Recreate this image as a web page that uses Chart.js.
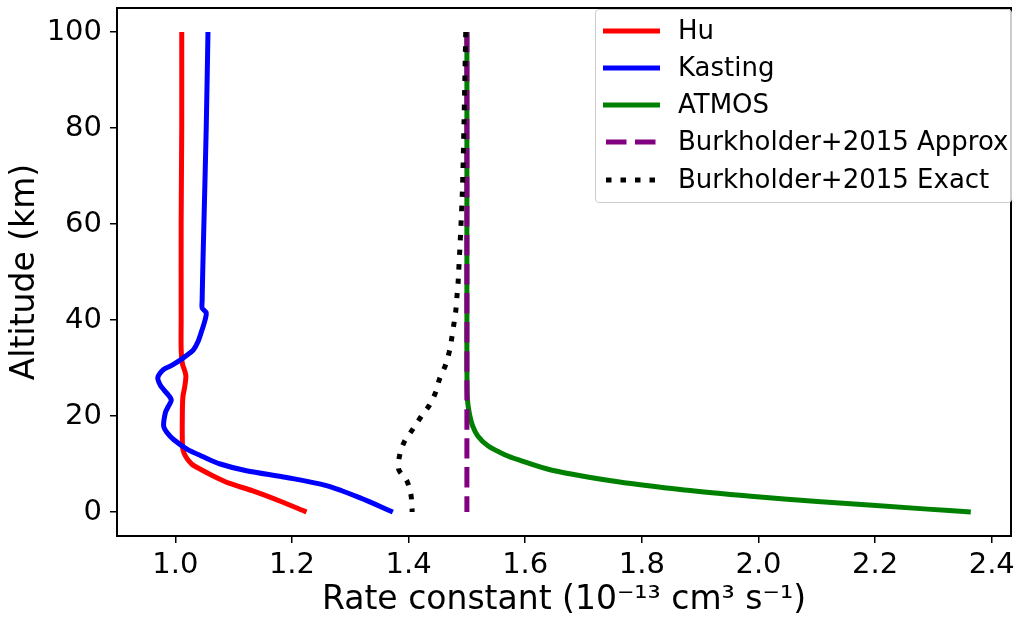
<!DOCTYPE html>
<html>
<head>
<meta charset="utf-8">
<script src="https://cdn.jsdelivr.net/npm/chart.js@4"></script>
<style>
  body { margin: 0; background: #fff; }
  #wrap { position: relative; width: 1017px; height: 620px; }
  #legend {
    position: absolute; left: 595px; top: 9px; width: 415px; height: 192px;
    background: rgba(255,255,255,0.8); border: 1px solid #ccc; border-radius: 4px;
    font-family: "DejaVu Sans", sans-serif; font-size: 26px; color: #000;
  }
  .row { position: absolute; left: 0; height: 30px; }
  .row svg { position: absolute; left: 7px; top: 10px; }
  .row span { position: absolute; left: 82px; top: -1px; white-space: nowrap; line-height: 30px; }
</style>
</head>
<body>
<div id="wrap">
  <canvas id="chart"></canvas>
  <div id="legend"></div>
</div>
<script>
// altitude (km) and rate constant (1e-13 cm^3 s^-1)
const huAlt  = [100, 80, 60, 40, 34, 31, 28.5, 26, 24, 20, 15, 13, 11.5, 10, 8.9, 7.5, 6, 4.4, 2.3, 0];
const huRate = [1.011, 1.011, 1.010, 1.010, 1.010, 1.012, 1.018, 1.016, 1.013, 1.012, 1.012, 1.013, 1.018, 1.028, 1.043, 1.065, 1.092, 1.133, 1.179, 1.225];

const kastingAlt  = [100, 80, 60, 50, 44, 42.5, 41.5, 40, 38, 35.5, 33.8, 32.5, 31.7, 30.5, 29.7, 28, 26.5, 25.5, 23.4, 22, 20.7, 17.9, 16.5, 15.1, 13.1, 11.5, 10, 8.6, 7.2, 5.5, 3.0, 0];
const kastingRate = [1.056, 1.053, 1.049, 1.047, 1.046, 1.046, 1.053, 1.051, 1.046, 1.039, 1.031, 1.018, 1.009, 0.993, 0.980, 0.970, 0.974, 0.980, 0.993, 0.988, 0.983, 0.980, 0.986, 0.997, 1.020, 1.048, 1.077, 1.122, 1.191, 1.259, 1.316, 1.373];

const atmosAlt  = [100, 60, 40, 30, 23.4, 20.7, 17.9, 15.8, 13.8, 12, 10.85, 8.7, 6.3, 4.6, 3.3, 2.2, 0.6, 0];
const atmosRate = [1.500, 1.500, 1.500, 1.500, 1.501, 1.504, 1.510, 1.519, 1.536, 1.564, 1.589, 1.646, 1.759, 1.873, 1.987, 2.101, 2.290, 2.364];

const approxAlt  = [100, 0];
const approxRate = [1.500, 1.500];

const exactAlt  = [100, 81, 66, 48, 45, 42, 39.4, 36.2, 33.5, 30.5, 27.7, 24.8, 22.1, 19.8, 17.2, 14.7, 12, 8.9, 6.5, 3.6, 0.6, 0];
const exactRate = [1.498, 1.495, 1.492, 1.485, 1.483, 1.481, 1.478, 1.474, 1.470, 1.463, 1.453, 1.446, 1.435, 1.421, 1.407, 1.393, 1.385, 1.383, 1.397, 1.404, 1.406, 1.406];

const xTicks = [1.0, 1.2, 1.4, 1.6, 1.8, 2.0, 2.2, 2.4];
const yTicks = [0, 20, 40, 60, 80, 100];

const toPoints = (alt, rate) => alt.map((a, i) => ({ x: rate[i], y: a }));

const series = [
  { label: 'Hu', data: toPoints(huAlt, huRate), color: '#ff0000', dash: [] },
  { label: 'Kasting', data: toPoints(kastingAlt, kastingRate), color: '#0000ff', dash: [] },
  { label: 'ATMOS', data: toPoints(atmosAlt, atmosRate), color: '#008000', dash: [] },
  { label: 'Burkholder+2015 Approx', data: toPoints(approxAlt, approxRate), color: '#800080', dash: [20.5, 8.5] },
  { label: 'Burkholder+2015 Exact', data: toPoints(exactAlt, exactRate), color: '#000000', dash: [5.5, 9] }
];

// box around the plot area, like matplotlib spines
const frame = {
  id: 'frame',
  afterDatasetsDraw(chart) {
    const { ctx, chartArea: a } = chart;
    ctx.save();
    ctx.strokeStyle = '#000';
    ctx.lineWidth = 2;
    ctx.strokeRect(a.left, a.top, a.right - a.left, a.bottom - a.top);
    ctx.restore();
  }
};

const font = { family: '"DejaVu Sans", sans-serif' };

new Chart(document.getElementById('chart'), {
  type: 'scatter',
  data: {
    datasets: series.map((s, i) => ({
      label: s.label,
      data: s.data,
      showLine: true,
      borderColor: s.color,
      backgroundColor: s.color,
      borderWidth: 5,
      borderDash: s.dash,
      borderCapStyle: 'butt',
      pointRadius: 0,
      tension: 0.3,
      order: series.length - i
    }))
  },
  options: {
    responsive: true,
    maintainAspectRatio: false,
    animation: false,
    layout: { padding: { top: 8, right: 6, left: 0, bottom: 0 } },
    plugins: { legend: { display: false }, tooltip: { enabled: false } },
    scales: {
      x: {
        type: 'linear',
        min: 0.9,
        max: 2.433,
        afterBuildTicks: s => { s.ticks = xTicks.map(v => ({ value: v })); },
        afterFit: s => { s.height = 84; s.paddingLeft = 0; s.paddingRight = 0; },
        border: { display: false },
        grid: { drawOnChartArea: false, drawTicks: true, tickLength: 7, color: '#000', lineWidth: 1.5 },
        ticks: { color: '#000', font: { ...font, size: 29 }, padding: 5, maxRotation: 0,
                 callback: v => Number(v).toFixed(1) },
        title: { display: true, text: 'Rate constant (10⁻¹³ cm³ s⁻¹)', color: '#000',
                 font: { ...font, size: 33 }, padding: { top: 0, bottom: 0 } }
      },
      y: {
        type: 'linear',
        min: -5,
        max: 105,
        afterBuildTicks: s => { s.ticks = yTicks.map(v => ({ value: v })); },
        afterFit: s => { s.width = 117; s.paddingTop = 0; s.paddingBottom = 0; },
        border: { display: false },
        grid: { drawOnChartArea: false, drawTicks: true, tickLength: 7, color: '#000', lineWidth: 1.5 },
        ticks: { color: '#000', font: { ...font, size: 29 }, padding: 8 },
        title: { display: true, text: 'Altitude (km)', color: '#000',
                 font: { ...font, size: 33 }, padding: { top: 6, bottom: 0 } }
      }
    }
  },
  plugins: [frame]
});

// legend drawn as HTML over the upper right corner of the plot
const legend = document.getElementById('legend');
const rowTops = [6, 43, 80, 117, 155];
series.forEach((s, i) => {
  const row = document.createElement('div');
  row.className = 'row';
  row.style.top = rowTops[i] + 'px';
  const dash = s.dash.length ? ` stroke-dasharray="${s.dash.join(' ')}"` : '';
  const off = s.dash.length ? 3 : 0;
  row.innerHTML = `<svg width="60" height="10"><line x1="${off}" y1="5" x2="57" y2="5" stroke="${s.color}" stroke-width="5"${dash}/></svg><span>${s.label}</span>`;
  legend.appendChild(row);
});
</script>
</body>
</html>
